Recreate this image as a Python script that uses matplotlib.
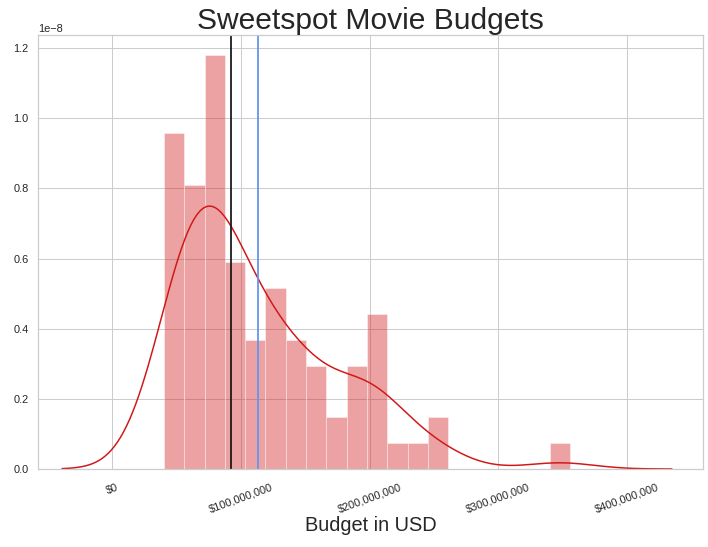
import numpy as np
import matplotlib
matplotlib.use("Agg")
import matplotlib.pyplot as plt
import seaborn as sns
from matplotlib.ticker import FuncFormatter

# histogram: 20 equal bins, counts per bin
bin_lo = 40.2e6
bin_hi = 355.8e6
counts = [13, 11, 16, 8, 5, 7, 5, 4, 2, 4, 6, 1, 1, 2, 0, 0, 0, 0, 0, 1]
median_budget = 92.5e6
mean_budget = 113.4e6
kde_bw = 26.4e6
xticks = [0, 100e6, 200e6, 300e6, 400e6]

sns.set_theme(style="whitegrid", context="notebook")
plt.rcParams["font.family"] = ["Liberation Sans", "DejaVu Sans"]

edges = np.linspace(bin_lo, bin_hi, len(counts) + 1)
centers = (edges[:-1] + edges[1:]) / 2
budgets = np.repeat(centers, counts)

# gaussian kde, cut=3 (like distplot)
grid = np.linspace(bin_lo - 3 * kde_bw, bin_hi + 3 * kde_bw, 200)
dens = np.exp(-0.5 * ((grid[:, None] - budgets[None, :]) / kde_bw) ** 2).sum(1)
dens /= len(budgets) * kde_bw * np.sqrt(2 * np.pi)

red = "#d01818"
fig = plt.figure(figsize=(708 / 72, 547 / 72), dpi=72)
ax = fig.add_axes([38 / 708, 78 / 547, 664.7 / 708, 434.3 / 547])

ax.hist(centers, bins=edges, weights=counts, density=True, color=red,
        alpha=0.4, edgecolor="w", linewidth=1)
ax.plot(grid, dens, color=red, lw=1.5)
ax.axvline(median_budget, color="#1a1a1a", lw=1.8)
ax.axvline(mean_budget, color="cornflowerblue", lw=1.8)

ax.set_xlim(-57.7e6, 458.9e6)
ax.set_xticks(xticks)
ax.xaxis.set_major_formatter(FuncFormatter(lambda v, p: "${:,.0f}".format(v)))
ax.tick_params(axis="x", pad=7)
plt.setp(ax.get_xticklabels(), rotation=20)
ax.set_xlabel("Budget in USD", fontsize=20, labelpad=2)
ax.set_title("Sweetspot Movie Budgets", fontsize=30)

fig.savefig("out.png", dpi=72)
